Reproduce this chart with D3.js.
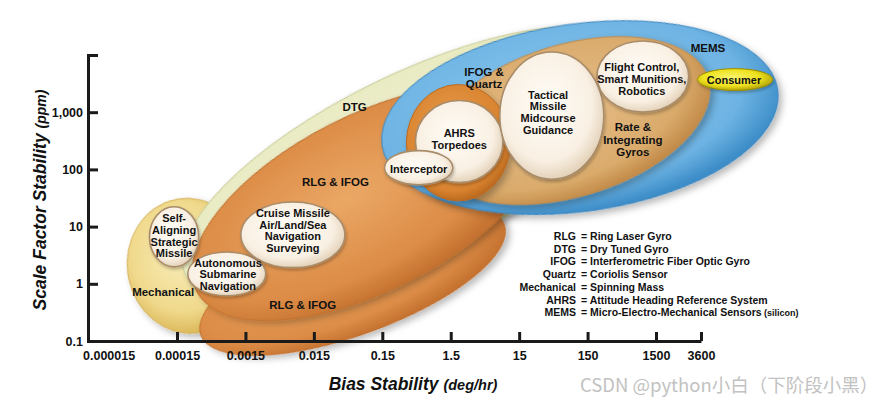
<!DOCTYPE html>
<meta charset="utf-8">
<style>
body { margin: 0; background: #fff; }
svg text { font-family: "Liberation Sans", Arial, sans-serif; font-weight: bold; fill: #111; }
.tick text { font-size: 12.5px; }
.lbl { text-anchor: middle; dominant-baseline: central; }
.legend { font-size: 10.5px; }
.title { font-style: italic; }
.mark { font-family: "Noto Sans CJK SC", sans-serif !important; font-weight: normal !important; fill: #c2c2c2 !important; font-size: 18.5px; }
</style>
<svg width="893" height="406"></svg>
<script src="https://d3js.org/d3.v7.min.js"></script>
<script>
// axis ticks
var biasTicks = [0.000015, 0.00015, 0.0015, 0.015, 0.15, 1.5, 15, 150, 1500, 3600];
var biasTickLabels = ["0.000015", "0.00015", "0.0015", "0.015", "0.15", "1.5", "15", "150", "1500", "3600"];
var scaleTicks = [0.1, 1, 10, 100, 1000];
var scaleTickLabels = ["0.1", "1", "10", "100", "1,000"];

// regions: centre (deg/hr, ppm), half axes in decades of bias, tilt in degrees
var regionNames = ["Mechanical", "DTG", "RLG & IFOG low", "RLG & IFOG", "MEMS", "IFOG & Quartz", "AHRS ring",
                   "Self-Aligning", "Autonomous", "Cruise Missile", "AHRS", "Interceptor", "Tactical Missile", "Flight Control", "Consumer"];
var regionKind  = ["mech", "dtg", "rlg", "rlg", "mems", "tan", "ring",
                   "app", "app", "app", "app", "app", "app", "app", "consumer"];
var regionBias  = [2.24e-4, 0.44, 0.0552, 0.098, 116, 83, 1.94, 1.36e-4, 8.0e-4, 7.4e-3, 2.0, 0.51, 45, 964, 6990];
var regionScale = [2.06, 125, 1.17, 26.1, 804, 713, 293, 6.63, 1.49, 7.18, 306, 107, 871, 4200, 3720];
var regionMajor = [0.90, 3.72, 2.36, 2.84, 2.92, 2.11, 0.76, 0.36, 0.57, 0.76, 0.64, 0.50, 0.76, 0.67, 0.55];
var regionMinor = [0.99, 1.32, 0.80, 1.28, 1.37, 1.11, 0.85, 0.44, 0.32, 0.48, 0.60, 0.25, 0.93, 0.52, 0.16];
var regionTilt  = [-10, -26, -20, -27, -8, -17, 0, 0, 0, 0, 0, 0, 0, 0, 0];

// labels
var labelLines = [["Self-", "Aligning", "Strategic", "Missile"], ["Autonomous", "Submarine", "Navigation"],
                  ["Cruise Missile", "Air/Land/Sea", "Navigation", "Surveying"], ["AHRS", "Torpedoes"], ["Interceptor"],
                  ["Tactical", "Missile", "Midcourse", "Guidance"], ["Flight Control,", "Smart Munitions,", "Robotics"], ["Consumer"],
                  ["Mechanical"], ["RLG & IFOG"], ["RLG & IFOG"], ["DTG"], ["IFOG &", "Quartz"], ["MEMS"], ["Rate &", "Integrating", "Gyros"]];
var labelBias  = [1.36e-4, 8.3e-4, 7.4e-3, 2.0, 0.51, 39.7, 931, 6840, 9.4e-5, 0.031, 0.0103, 0.059, 4.6, 4120, 689];
var labelScale = [6.9, 1.46, 8.61, 338, 103, 1004, 3800, 3720, 0.72, 61, 0.427, 1253, 3955, 13000, 331];
var labelBig   = [0, 0, 0, 0, 0, 0, 0, 0, 1, 1, 1, 1, 1, 1, 1];

// legend
var legendAbbr = ["RLG", "DTG", "IFOG", "Quartz", "Mechanical", "AHRS", "MEMS"];
var legendDef  = ["Ring Laser Gyro", "Dry Tuned Gyro", "Interferometric Fiber Optic Gyro", "Coriolis Sensor",
                  "Spinning Mass", "Attitude Heading Reference System", "Micro-Electro-Mechanical Sensors"];
var legendNote = ["", "", "", "", "", "", "(silicon)"];

var svg = d3.select("svg");

var x = d3.scaleLog().domain([7.5e-6, 1500, 3600]).range([88, 656, 701]);
var y = d3.scaleLog().domain([0.1, 10000]).range([341, 55]);
var dec = x(1.5) - x(0.15);

var defs = svg.append("defs");
var grads = {
  mech:     [["0%", "#f8edb8"], ["70%", "#f0d98c"], ["100%", "#dcb85a"]],
  dtg:      [["0%", "#f4f4da"], ["80%", "#e8eac0"], ["100%", "#cdd19c"]],
  rlg:      [["0%", "#eaa765"], ["75%", "#dc8c46"], ["100%", "#c57230"]],
  mems:     [["0%", "#8ccaf0"], ["80%", "#6db3e3"], ["100%", "#3d8dc8"]],
  tan:      [["0%", "#e8c08a"], ["80%", "#d9aa6b"], ["100%", "#c48c4a"]],
  ring:     [["0%", "#e8a050"], ["85%", "#d9832f"], ["100%", "#bd6b20"]],
  app:      [["0%", "#fffcf7"], ["75%", "#f9f0e3"], ["100%", "#e4d3bb"]],
  consumer: [["0%", "#faf470"], ["65%", "#eee21e"], ["100%", "#b3a406"]]
};
Object.keys(grads).forEach(function(k) {
  var g = defs.append("radialGradient").attr("id", "g-" + k)
      .attr("cx", "45%").attr("cy", "42%").attr("r", "58%");
  grads[k].forEach(function(s) { g.append("stop").attr("offset", s[0]).attr("stop-color", s[1]); });
});
var f = defs.append("filter").attr("id", "shadow")
    .attr("x", "-20%").attr("y", "-20%").attr("width", "145%").attr("height", "150%");
f.append("feDropShadow").attr("dx", 3).attr("dy", 4).attr("stdDeviation", 3.5)
    .attr("flood-color", "#000").attr("flood-opacity", 0.28);
var f2 = defs.append("filter").attr("id", "shadow2")
    .attr("x", "-20%").attr("y", "-20%").attr("width", "145%").attr("height", "150%");
f2.append("feDropShadow").attr("dx", 1).attr("dy", 2).attr("stdDeviation", 1.5)
    .attr("flood-color", "#000").attr("flood-opacity", 0.25);

var strokes = { mech: "#d4b25a", dtg: "#c8cc98", rlg: "#c06e2c", mems: "#3a86c0", tan: "#c08a4a",
                ring: "#b96a22", app: "#a98c6a", consumer: "#9a8c00" };

var regions = regionNames.map(function(n, i) {
  return { name: n, kind: regionKind[i], bias: regionBias[i], ppm: regionScale[i],
           a: regionMajor[i], b: regionMinor[i], tilt: regionTilt[i] };
});

svg.append("g").selectAll("ellipse")
  .data(regions)
  .enter().append("ellipse")
    .attr("cx", function(d) { return x(d.bias); })
    .attr("cy", function(d) { return y(d.ppm); })
    .attr("rx", function(d) { return d.a * dec; })
    .attr("ry", function(d) { return d.b * dec; })
    .attr("transform", function(d) { return "rotate(" + d.tilt + "," + x(d.bias) + "," + y(d.ppm) + ")"; })
    .style("fill", function(d) { return "url(#g-" + d.kind + ")"; })
    .style("stroke", function(d) { return strokes[d.kind]; })
    .style("stroke-width", function(d) { return d.kind == "app" ? 1.6 : 1; })
    .style("filter", function(d) { return d.kind == "app" || d.kind == "consumer" ? "url(#shadow2)" : "url(#shadow)"; });

// region labels
var labels = labelLines.map(function(l, i) {
  return { lines: l, bias: labelBias[i], ppm: labelScale[i], big: labelBig[i] };
});
var lg = svg.append("g").selectAll("text")
  .data(labels)
  .enter().append("text")
    .attr("class", "lbl")
    .attr("x", function(d) { return x(d.bias); })
    .attr("y", function(d) { return y(d.ppm); })
    .style("font-size", function(d) { return d.big ? "11.5px" : "11px"; });
lg.selectAll("tspan")
  .data(function(d) { return d.lines.map(function(t, i) { return { t: t, i: i, n: d.lines.length, big: d.big, px: x(d.bias), py: y(d.ppm) }; }); })
  .enter().append("tspan")
    .attr("x", function(d) { return d.px; })
    .attr("y", function(d) { return d.py + (d.i - (d.n - 1) / 2) * (d.big ? 12.3 : 11.6); })
    .text(function(d) { return d.t; });

// axes
var xAxis = svg.append("g")
    .attr("transform", "translate(0,341)")
    .call(d3.axisBottom(x).tickValues(biasTicks)
      .tickFormat(function(d, i) { return biasTickLabels[i]; })
      .tickSizeInner(-9).tickSizeOuter(0).tickPadding(10));
xAxis.select(".tick line").remove();

var yAxis = svg.append("g")
    .attr("transform", "translate(88,0)")
    .call(d3.axisLeft(y).tickValues(scaleTicks)
      .tickFormat(function(d, i) { return scaleTickLabels[i]; })
      .tickSizeInner(-10).tickSizeOuter(-10).tickPadding(5));
yAxis.select(".tick line").remove();

svg.selectAll(".domain, .tick line").style("stroke", "#1a1a1a").style("stroke-width", 3);
svg.selectAll(".tick text").style("fill", "#111").style("font-family", "'Liberation Sans', Arial, sans-serif");
xAxis.attr("font-size", null);
yAxis.attr("font-size", null);

// titles
var xt = svg.append("text").attr("class", "title")
    .attr("x", 413).attr("y", 390).attr("text-anchor", "middle").style("font-size", "17.5px");
xt.append("tspan").text("Bias Stability ");
xt.append("tspan").style("font-size", "14.5px").text("(deg/hr)");

var yt = svg.append("text").attr("class", "title")
    .attr("transform", "translate(46,200) rotate(-90)").attr("text-anchor", "middle").style("font-size", "17.5px");
yt.append("tspan").text("Scale Factor Stability ");
yt.append("tspan").style("font-size", "14px").text("(ppm)");

// legend
var leg = svg.append("g").attr("class", "legend");
legendAbbr.forEach(function(a, i) {
  var ly = 240 + i * 12.7;
  leg.append("text").attr("x", 576).attr("y", ly).attr("text-anchor", "end").text(a);
  var t = leg.append("text").attr("x", 581).attr("y", ly).text("= " + legendDef[i]);
  if (legendNote[i]) t.append("tspan").style("font-size", "9px").text(" " + legendNote[i]);
});

svg.append("text").attr("class", "mark").attr("x", 580).attr("y", 392).text("CSDN @python小白（下阶段小黑）");
</script>
